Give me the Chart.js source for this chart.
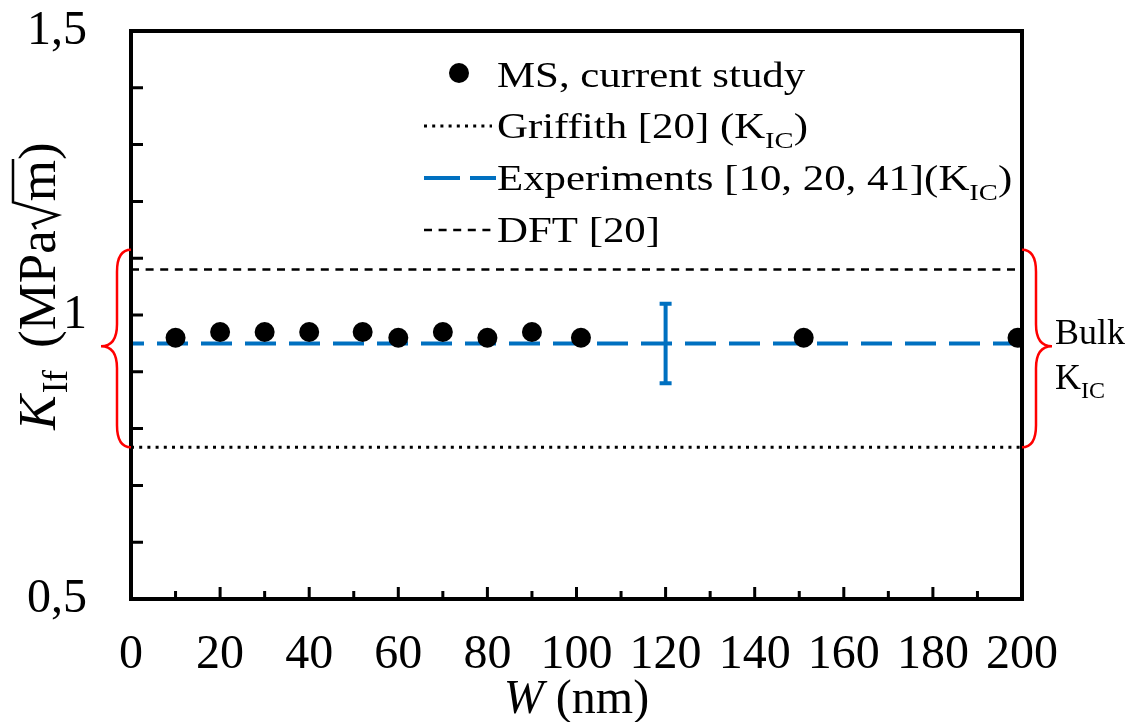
<!DOCTYPE html>
<html>
<head>
<meta charset="utf-8">
<style>
  html, body { margin: 0; padding: 0; background: #ffffff; }
  #wrap { width: 1130px; height: 722px; }
</style>
<script src="https://cdn.jsdelivr.net/npm/chart.js@4.4.1/dist/chart.umd.min.js"></script>
</head>
<body>
<div id="wrap"><canvas id="chart" width="1130" height="722"></canvas></div>
<script>
// MS results (W in nm, K_If in MPa*sqrt(m))
const msWidth = [10, 20, 30, 40, 52, 60, 70, 80, 90, 101, 151, 199];
const msKIf = [0.96, 0.97, 0.97, 0.97, 0.97, 0.96, 0.97, 0.96, 0.97, 0.96, 0.96, 0.96];

// reference levels, drawn across the whole W range
const lineSpan = [0, 200];
const griffithKIC = 0.767;
const experimentsKIC = 0.95;
const dftKIf = 1.08;

// experimental scatter band, shown as one error bar
const errorBarW = 120;
const errorBarRange = [0.88, 1.02];

// red braces marking the bulk K_IC band (bottom, tip, top)
const braceRange = [0.767, 0.945, 1.115];

// axes
const xTickValues = [0, 20, 40, 60, 80, 100, 120, 140, 160, 180, 200];
const xTickLabels = ["0", "20", "40", "60", "80", "100", "120", "140", "160", "180", "200"];
const xMinorTicks = [10, 30, 50, 70, 90, 110, 130, 150, 170, 190];
const yTickValues = [0.5, 1, 1.5];
const yTickLabels = ["0,5", "1", "1,5"];
const yMinorTicks = [0.6, 0.7, 0.8, 0.9, 1.1, 1.2, 1.3, 1.4];

const legendLabels = ["MS, current study", "Griffith [20]", "Experiments [10, 20, 41]", "DFT [20]"];

const serif = "'Liberation Serif', 'Times New Roman', serif";
const blue = "#0070C0";

function toPoints(xs, ys) {
  return xs.map(function(x, i) { return { x: x, y: ys[i] }; });
}
function flatLine(y) {
  return lineSpan.map(function(x) { return { x: x, y: y }; });
}

// draws text with a horizontal stretch (the legend text in the figure is widened)
function stretchedText(ctx, text, x, y, size, sx, style) {
  ctx.save();
  ctx.translate(x, y);
  ctx.scale(sx, 1);
  ctx.font = (style || "") + " " + size + "px " + serif;
  ctx.fillText(text, 0, 0);
  const w = ctx.measureText(text).width * sx;
  ctx.restore();
  return w;
}

const decorations = {
  id: "decorations",
  afterDraw: function(chart) {
    const ctx = chart.ctx;
    const area = chart.chartArea;
    const xs = chart.scales.x;
    const ys = chart.scales.y;

    ctx.save();

    // error bar
    const ex = xs.getPixelForValue(errorBarW);
    const e0 = ys.getPixelForValue(errorBarRange[0]);
    const e1 = ys.getPixelForValue(errorBarRange[1]);
    ctx.strokeStyle = blue;
    ctx.lineWidth = 4;
    ctx.beginPath();
    ctx.moveTo(ex, e0); ctx.lineTo(ex, e1);
    ctx.moveTo(ex - 6, e0); ctx.lineTo(ex + 6, e0);
    ctx.moveTo(ex - 6, e1); ctx.lineTo(ex + 6, e1);
    ctx.stroke();

    // frame
    ctx.strokeStyle = "#000";
    ctx.lineWidth = 4;
    ctx.strokeRect(area.left, area.top, area.right - area.left, area.bottom - area.top);

    // inward tick marks
    ctx.lineWidth = 3;
    ctx.beginPath();
    xTickValues.forEach(function(v) {
      const px = xs.getPixelForValue(v);
      ctx.moveTo(px, area.bottom); ctx.lineTo(px, area.bottom - 12);
    });
    xMinorTicks.forEach(function(v) {
      const px = xs.getPixelForValue(v);
      ctx.moveTo(px, area.bottom); ctx.lineTo(px, area.bottom - 8);
    });
    yTickValues.concat(yMinorTicks).forEach(function(v) {
      const py = ys.getPixelForValue(v);
      ctx.moveTo(area.left, py); ctx.lineTo(area.left + 12, py);
    });
    ctx.stroke();

    // braces
    const bb = ys.getPixelForValue(braceRange[0]);
    const bm = ys.getPixelForValue(braceRange[1]);
    const bt = ys.getPixelForValue(braceRange[2]);
    ctx.strokeStyle = "#FF0000";
    ctx.lineWidth = 2.5;
    [[area.left, -1], [area.right, 1]].forEach(function(side) {
      const x0 = side[0], d = side[1];
      const xb = x0 + d * 14, xt = x0 + d * 30;
      ctx.beginPath();
      ctx.moveTo(x0, bt);
      ctx.bezierCurveTo(x0 + d * 8, bt, xb, bt + 6, xb, bt + 22);
      ctx.lineTo(xb, bm - 22);
      ctx.bezierCurveTo(xb, bm - 6, x0 + d * 20, bm, xt, bm);
      ctx.bezierCurveTo(x0 + d * 20, bm, xb, bm + 6, xb, bm + 22);
      ctx.lineTo(xb, bb - 22);
      ctx.bezierCurveTo(xb, bb - 6, x0 + d * 8, bb, x0, bb);
      ctx.stroke();
    });

    // "Bulk K_IC"
    ctx.fillStyle = "#000";
    ctx.textBaseline = "alphabetic";
    ctx.textAlign = "left";
    ctx.font = "36px " + serif;
    ctx.fillText("Bulk", 1055, 344);
    ctx.fillText("K", 1055, 389);
    const kw = ctx.measureText("K").width;
    ctx.font = "24px " + serif;
    ctx.fillText("IC", 1055 + kw, 398);

    // legend
    const lx0 = 424, lx1 = 492, tx = 497, sx = 1.19;
    const rows = [73, 126, 178, 230];
    const base = [87, 138, 190, 242];

    ctx.beginPath();
    ctx.arc(459, rows[0], 10, 0, Math.PI * 2);
    ctx.fill();

    ctx.lineWidth = 3;
    ctx.strokeStyle = "#000";
    ctx.setLineDash([3, 5.2]);
    ctx.beginPath(); ctx.moveTo(lx0, rows[1]); ctx.lineTo(lx1, rows[1]); ctx.stroke();

    ctx.strokeStyle = blue;
    ctx.lineWidth = 4;
    ctx.setLineDash([36, 10]);
    ctx.beginPath(); ctx.moveTo(lx0, rows[2]); ctx.lineTo(lx1 + 4, rows[2]); ctx.stroke();

    ctx.strokeStyle = "#000";
    ctx.lineWidth = 2.5;
    ctx.setLineDash([8, 6.6]);
    ctx.beginPath(); ctx.moveTo(lx0, rows[3]); ctx.lineTo(lx1, rows[3]); ctx.stroke();
    ctx.setLineDash([]);

    stretchedText(ctx, legendLabels[0], tx, base[0], 36, sx);
    [1, 2].forEach(function(i) {
      let x = tx;
      x += stretchedText(ctx, legendLabels[i] + (i === 1 ? " (K" : "(K"), x, base[i], 36, sx);
      x += stretchedText(ctx, "IC", x, base[i] + 10, 24, sx);
      stretchedText(ctx, ")", x, base[i], 36, sx);
    });
    stretchedText(ctx, legendLabels[3], tx, base[3], 36, sx);

    // x title
    ctx.font = "italic 48px " + serif;
    const wW = ctx.measureText("W").width;
    ctx.font = "48px " + serif;
    const wRest = ctx.measureText(" (nm)").width;
    const xt0 = (area.left + area.right) / 2 - (wW + wRest) / 2;
    ctx.font = "italic 48px " + serif;
    ctx.fillText("W", xt0, 713);
    ctx.font = "48px " + serif;
    ctx.fillText(" (nm)", xt0 + wW, 713);

    // y title, rotated
    ctx.save();
    ctx.translate(55, 430);
    ctx.rotate(-Math.PI / 2);
    let p = 0;
    ctx.font = "italic 52px " + serif;
    ctx.fillText("K", p, 0);
    p += ctx.measureText("K").width + 2;
    ctx.font = "35px " + serif;
    ctx.fillText("If", p, 12);
    p += ctx.measureText("If").width + 22;
    ctx.font = "53px " + serif;
    ctx.fillText("(MPa", p, 0);
    p += ctx.measureText("(MPa").width;
    // radical sign with an overbar over m
    ctx.lineWidth = 2.5;
    ctx.strokeStyle = "#000";
    ctx.beginPath();
    ctx.moveTo(p + 1, -19);
    ctx.lineTo(p + 6, -22);
    ctx.lineTo(p + 15, 3);
    ctx.lineTo(p + 28, -42);
    ctx.lineTo(p + 28 + ctx.measureText("m").width + 2, -42);
    ctx.stroke();
    p += 29;
    ctx.fillText("m)", p, 0);
    ctx.restore();

    ctx.restore();
  }
};

function noMargins(scale) {
  scale.paddingTop = 0;
  scale.paddingBottom = 0;
  scale.paddingLeft = 0;
  scale.paddingRight = 0;
}

new Chart(document.getElementById("chart"), {
  type: "scatter",
  data: {
    datasets: [
      {
        label: legendLabels[0],
        data: toPoints(msWidth, msKIf),
        pointRadius: 10,
        pointHoverRadius: 10,
        pointBackgroundColor: "#000",
        pointBorderWidth: 0,
        showLine: false,
        clip: 0
      },
      {
        label: legendLabels[1],
        data: flatLine(griffithKIC),
        showLine: true,
        borderColor: "#000",
        borderWidth: 3,
        borderDash: [3, 5.2],
        pointRadius: 0
      },
      {
        label: legendLabels[2],
        data: flatLine(experimentsKIC),
        showLine: true,
        borderColor: blue,
        borderWidth: 4,
        borderDash: [31, 13],
        borderDashOffset: 18,
        pointRadius: 0
      },
      {
        label: legendLabels[3],
        data: flatLine(dftKIf),
        showLine: true,
        borderColor: "#000",
        borderWidth: 2.5,
        borderDash: [8, 6.6],
        pointRadius: 0
      }
    ]
  },
  options: {
    responsive: false,
    devicePixelRatio: 1,
    animation: false,
    layout: { padding: { left: 0, top: 31, right: 108, bottom: 0 } },
    plugins: {
      legend: { display: false },
      tooltip: { enabled: false }
    },
    scales: {
      x: {
        type: "linear",
        min: 0,
        max: 200,
        grid: { display: false, drawTicks: false },
        border: { display: false },
        afterBuildTicks: function(scale) {
          scale.ticks = xTickValues.map(function(v) { return { value: v }; });
        },
        afterFit: function(scale) { scale.height = 123; noMargins(scale); },
        ticks: {
          autoSkip: false,
          maxRotation: 0,
          padding: 28,
          color: "#000",
          font: { family: serif, size: 48 },
          callback: function(value) { return xTickLabels[xTickValues.indexOf(value)]; }
        }
      },
      y: {
        type: "linear",
        min: 0.5,
        max: 1.5,
        grid: { display: false, drawTicks: false },
        border: { display: false },
        afterBuildTicks: function(scale) {
          scale.ticks = yTickValues.map(function(v) { return { value: v }; });
        },
        afterFit: function(scale) { scale.width = 131; noMargins(scale); },
        ticks: {
          autoSkip: false,
          padding: 44,
          color: "#000",
          font: { family: serif, size: 48 },
          callback: function(value) { return yTickLabels[yTickValues.indexOf(value)]; }
        }
      }
    }
  },
  plugins: [decorations]
});
</script>
</body>
</html>
